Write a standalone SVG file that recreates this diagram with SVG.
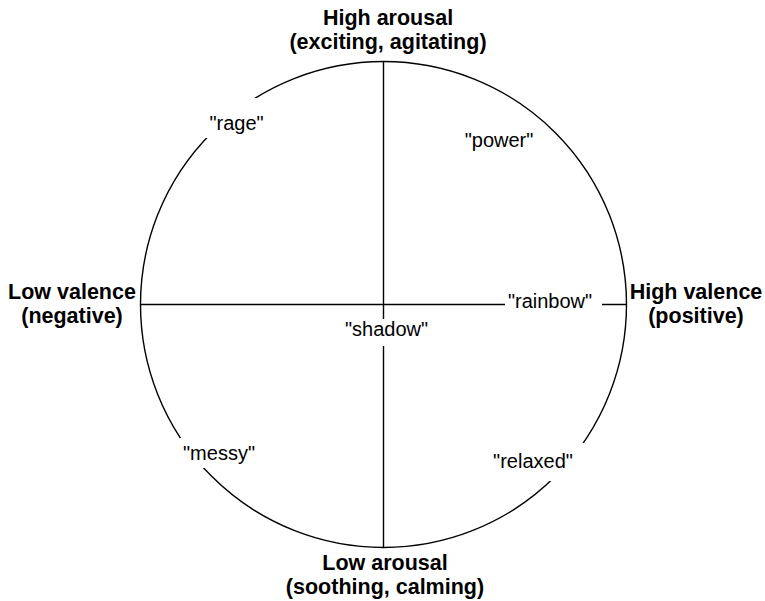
<svg xmlns="http://www.w3.org/2000/svg" width="765" height="601" viewBox="0 0 765 601">
  <style>
    .bg { fill: #ffffff; }
    .ln { fill: none; stroke: #000000; stroke-width: 1.4; }
    .ax { font-family: "Liberation Sans", Arial, Helvetica, sans-serif; font-weight: bold; font-size: 21.5px; fill: #000000; text-anchor: middle; }
    .wd { font-family: "Liberation Sans", Arial, Helvetica, sans-serif; font-size: 20px; fill: #000000; text-anchor: middle; }
    .mask { fill: #ffffff; stroke: none; }
  </style>
  <rect class="bg" x="0" y="0" width="765" height="601"/>

  <g id="connectors">
    <circle class="ln" cx="383.5" cy="304.5" r="243"/>
    <line class="ln" x1="383.5" y1="61.5" x2="383.5" y2="547.5"/>
    <line class="ln" x1="140.5" y1="304.5" x2="626.5" y2="304.5"/>
  </g>

  <g id="axis-top">
    <text class="ax" x="388" y="25">High arousal</text>
    <text class="ax" x="388" y="49">(exciting, agitating)</text>
  </g>
  <g id="axis-left">
    <text class="ax" x="72" y="299">Low valence</text>
    <text class="ax" x="72" y="323">(negative)</text>
  </g>
  <g id="axis-right">
    <text class="ax" x="696" y="299">High valence</text>
    <text class="ax" x="696" y="323">(positive)</text>
  </g>
  <g id="axis-bottom">
    <text class="ax" x="385" y="570">Low arousal</text>
    <text class="ax" x="385" y="594">(soothing, calming)</text>
  </g>

  <g id="word-rage">
    <rect class="mask" x="205" y="98" width="64" height="40"/>
    <text class="wd" x="236.5" y="130">"rage"</text>
  </g>
  <g id="word-power">
    <text class="wd" x="499" y="147">"power"</text>
  </g>
  <g id="word-rainbow">
    <rect class="mask" x="505" y="290" width="97" height="26"/>
    <text class="wd" x="550" y="308">"rainbow"</text>
  </g>
  <g id="word-shadow">
    <rect class="mask" x="340" y="319" width="92" height="27"/>
    <text class="wd" x="386.5" y="336">"shadow"</text>
  </g>
  <g id="word-messy">
    <rect class="mask" x="180" y="438" width="82" height="30"/>
    <text class="wd" x="219" y="460">"messy"</text>
  </g>
  <g id="word-relaxed">
    <rect class="mask" x="488" y="443" width="97" height="38"/>
    <text class="wd" x="533" y="468">"relaxed"</text>
  </g>
</svg>
